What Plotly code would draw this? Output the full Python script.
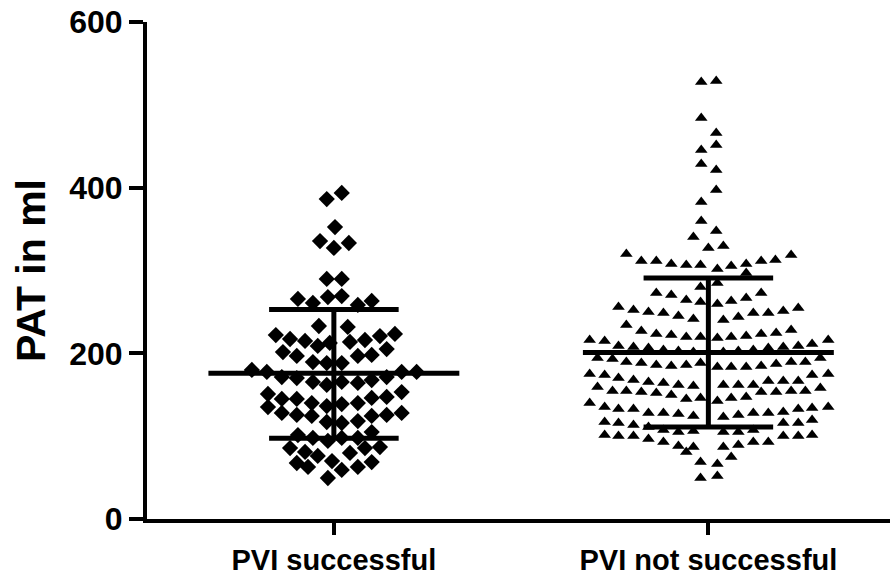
import plotly.graph_objects as go

categories = ["PVI successful", "PVI not successful"]

# Group 1 (diamonds): values in ml and horizontal scatter offset (category units)
g1_values = [386.3, 393.6, 352.5, 335.6, 327.2, 333.2, 289.8, 289.8,
             265.6, 260.8, 268.0, 269.2, 258.4, 263.2, 233.0, 231.8,
             222.1, 217.3, 214.9, 208.9, 212.5, 213.7, 216.1, 220.9, 223.4,
             201.6, 196.8, 189.5, 188.3, 196.8, 198.0, 205.2, 188.3,
             179.9, 177.5, 171.4, 170.2, 165.4, 161.8, 165.4, 164.2, 167.8, 171.4, 177.5, 177.5,
             150.9, 144.9, 144.9, 140.0, 136.4, 138.8, 140.0, 146.1, 147.3, 153.3,
             135.2, 128.0, 125.6, 124.4, 117.1, 115.9, 118.3, 124.4, 125.6, 128.0,
             101.4, 97.8, 94.2, 97.8, 97.8, 105.0,
             85.7, 80.9, 76.1, 79.7, 85.7, 86.9,
             67.6, 62.8, 70.0, 59.2, 62.8, 68.8, 49.5]
g1_offsets = [-0.019, 0.021, 0.003, -0.037, 0.0, 0.040, -0.019, 0.021,
              -0.096, -0.056, -0.016, 0.021, 0.064, 0.101, -0.040, 0.037,
              -0.155, -0.117, -0.077, -0.043, -0.011, 0.043, 0.083, 0.123, 0.163,
              -0.136, -0.099, -0.056, -0.019, 0.064, 0.101, 0.141, 0.021,
              -0.219, -0.179, -0.139, -0.099, -0.056, -0.019, 0.021, 0.064, 0.101, 0.141, 0.181, 0.221,
              -0.176, -0.139, -0.099, -0.059, -0.019, 0.021, 0.064, 0.101, 0.141, 0.181,
              -0.176, -0.139, -0.099, -0.059, -0.019, 0.021, 0.064, 0.101, 0.141, 0.181,
              -0.096, -0.056, -0.016, 0.021, 0.064, 0.101,
              -0.117, -0.077, -0.043, 0.043, 0.083, 0.123,
              -0.099, -0.069, -0.005, 0.021, 0.064, 0.101, -0.016]

# Group 2 (triangles)
g2_values = [527.6, 528.8, 484.1, 466.0, 451.5, 445.5, 428.6, 421.3, 397.2, 382.7,
             359.8, 340.5, 347.7, 327.2, 329.6,
             319.9, 311.5, 311.5, 307.9, 306.7, 306.7, 280.1, 272.8, 270.4, 264.4, 262.0,
             255.9, 252.3, 249.9, 248.7, 245.1, 241.5,
             234.2, 227.0, 223.4, 222.1, 219.7, 219.7,
             216.1, 214.9, 208.9, 207.7, 206.4, 204.0, 202.8, 201.6,
             194.4, 193.2, 189.5, 188.3, 185.9, 184.7, 185.9, 188.3,
             318.7, 312.7, 311.5, 307.9, 305.4, 301.8, 297.0, 284.9,
             272.8, 266.8, 263.2, 259.6,
             254.7, 251.1, 248.7, 248.7, 243.9, 240.3,
             228.2, 224.6, 223.4, 220.9, 219.7, 218.5,
             216.1, 211.3, 208.9, 207.7, 206.4, 204.0, 202.8, 201.6,
             194.4, 189.5, 189.5, 187.1, 184.7, 183.5, 183.5, 183.5,
             175.1, 173.9, 170.2, 167.8, 165.4, 164.2, 161.8, 160.6,
             159.4, 154.5, 154.5, 153.3, 152.1, 149.7, 144.9, 146.1,
             140.0, 135.2, 132.8, 132.8, 128.0, 128.0, 126.8, 124.4,
             117.1, 115.9, 113.5, 111.1, 107.4, 105.0, 106.2,
             101.4, 100.2, 100.2, 96.6, 93.0, 88.1, 86.9, 80.9, 68.8, 49.5,
             173.9, 175.1,
             161.8, 161.8, 161.8, 166.6, 166.6, 166.6,
             142.5, 146.1, 147.3, 153.3, 153.3, 154.5, 154.5, 158.2,
             123.1, 125.6, 128.0, 128.0, 129.2, 132.8, 134.0, 135.2,
             115.9, 115.9, 119.5, 100.2, 100.2, 101.4,
             105.0, 105.0, 107.4,
             86.9, 89.3, 93.0, 93.0, 74.9, 66.4, 51.9]
g2_offsets = [-0.019, 0.021, -0.019, 0.021, 0.021, -0.019, -0.019, 0.021, 0.021, -0.019,
              -0.019, -0.040, 0.021, 0.0, 0.040,
              -0.219, -0.179, -0.139, -0.099, -0.059, -0.021, -0.021, -0.139, -0.099, -0.059, -0.021,
              -0.240, -0.200, -0.160, -0.120, -0.080, -0.040,
              -0.219, -0.179, -0.139, -0.099, -0.059, -0.021,
              -0.317, -0.277, -0.240, -0.200, -0.160, -0.120, -0.080, -0.040,
              -0.296, -0.256, -0.219, -0.179, -0.139, -0.099, -0.059, -0.021,
              0.221, 0.179, 0.141, 0.101, 0.061, 0.024, 0.101, 0.024,
              0.141, 0.101, 0.061, 0.024,
              0.240, 0.200, 0.160, 0.120, 0.080, 0.040,
              0.221, 0.181, 0.141, 0.101, 0.061, 0.024,
              0.320, 0.277, 0.240, 0.200, 0.160, 0.120, 0.080, 0.040,
              0.299, 0.259, 0.221, 0.181, 0.141, 0.101, 0.061, 0.024,
              -0.317, -0.277, -0.240, -0.200, -0.160, -0.120, -0.080, -0.040,
              -0.296, -0.256, -0.219, -0.179, -0.139, -0.099, -0.059, -0.021,
              -0.317, -0.277, -0.240, -0.200, -0.160, -0.120, -0.080, -0.040,
              -0.277, -0.240, -0.200, -0.160, -0.120, -0.080, -0.040,
              -0.277, -0.240, -0.200, -0.160, -0.120, -0.080, -0.040, -0.059, -0.021, -0.021,
              0.277, 0.320,
              0.040, 0.080, 0.120, 0.160, 0.200, 0.240,
              0.024, 0.061, 0.101, 0.141, 0.181, 0.221, 0.259, 0.299,
              0.040, 0.080, 0.120, 0.160, 0.200, 0.240, 0.277, 0.320,
              0.200, 0.240, 0.277, 0.200, 0.240, 0.277,
              0.040, 0.080, 0.120,
              0.040, 0.080, 0.120, 0.160, 0.061, 0.024, 0.024]

# Summary statistics (mean, mean+SD, mean-SD)
means = [176, 201]
sd_upper = [253, 291]
sd_lower = [97.5, 111]

y_ticks = [0, 200, 400, 600]

fig = go.Figure()

fig.add_trace(go.Scatter(
    x=[0 + o for o in g1_offsets], y=g1_values, mode="markers",
    marker=dict(symbol="diamond", size=12.5, color="black", line=dict(width=0)),
    showlegend=False, hoverinfo="y"))
fig.add_trace(go.Scatter(
    x=[1 + o for o in g2_offsets], y=g2_values, mode="markers",
    marker=dict(symbol="triangle-up", size=11, color="black", line=dict(width=0)),
    showlegend=False, hoverinfo="y"))

mean_half = 0.335
cap_half = 0.173
for i in range(len(categories)):
    fig.add_trace(go.Scatter(x=[i - mean_half, i + mean_half], y=[means[i], means[i]],
                             mode="lines", line=dict(color="black", width=5),
                             showlegend=False, hoverinfo="skip"))
    fig.add_trace(go.Scatter(x=[i - cap_half, i + cap_half], y=[sd_upper[i], sd_upper[i]],
                             mode="lines", line=dict(color="black", width=5),
                             showlegend=False, hoverinfo="skip"))
    fig.add_trace(go.Scatter(x=[i - cap_half, i + cap_half], y=[sd_lower[i], sd_lower[i]],
                             mode="lines", line=dict(color="black", width=5),
                             showlegend=False, hoverinfo="skip"))
    fig.add_trace(go.Scatter(x=[i, i], y=[sd_lower[i], sd_upper[i]],
                             mode="lines", line=dict(color="black", width=5),
                             showlegend=False, hoverinfo="skip"))

font_family = "Liberation Sans, Arial, sans-serif"
fig.update_layout(
    width=890, height=578,
    margin=dict(l=147, r=0, t=22, b=59),
    plot_bgcolor="white", paper_bgcolor="white",
    xaxis=dict(range=[-0.499, 1.485], tickvals=[0, 1], ticktext=categories,
               showgrid=False, zeroline=False, showline=True, linecolor="black",
               linewidth=4, ticks="outside", ticklen=12, tickwidth=4, tickcolor="black",
               tickfont=dict(family=font_family, size=29, color="black", weight="bold")),
    yaxis=dict(range=[0, 600], tickvals=y_ticks, showgrid=False, zeroline=False,
               showline=True, linecolor="black", linewidth=4, ticks="outside",
               ticklen=14, tickwidth=4, tickcolor="black",
               tickfont=dict(family=font_family, size=32, color="black", weight="bold"),
               title=dict(text="PAT in ml", standoff=12,
                          font=dict(family=font_family, size=41, color="black", weight="bold"))),
)

fig.write_html("out.html")
